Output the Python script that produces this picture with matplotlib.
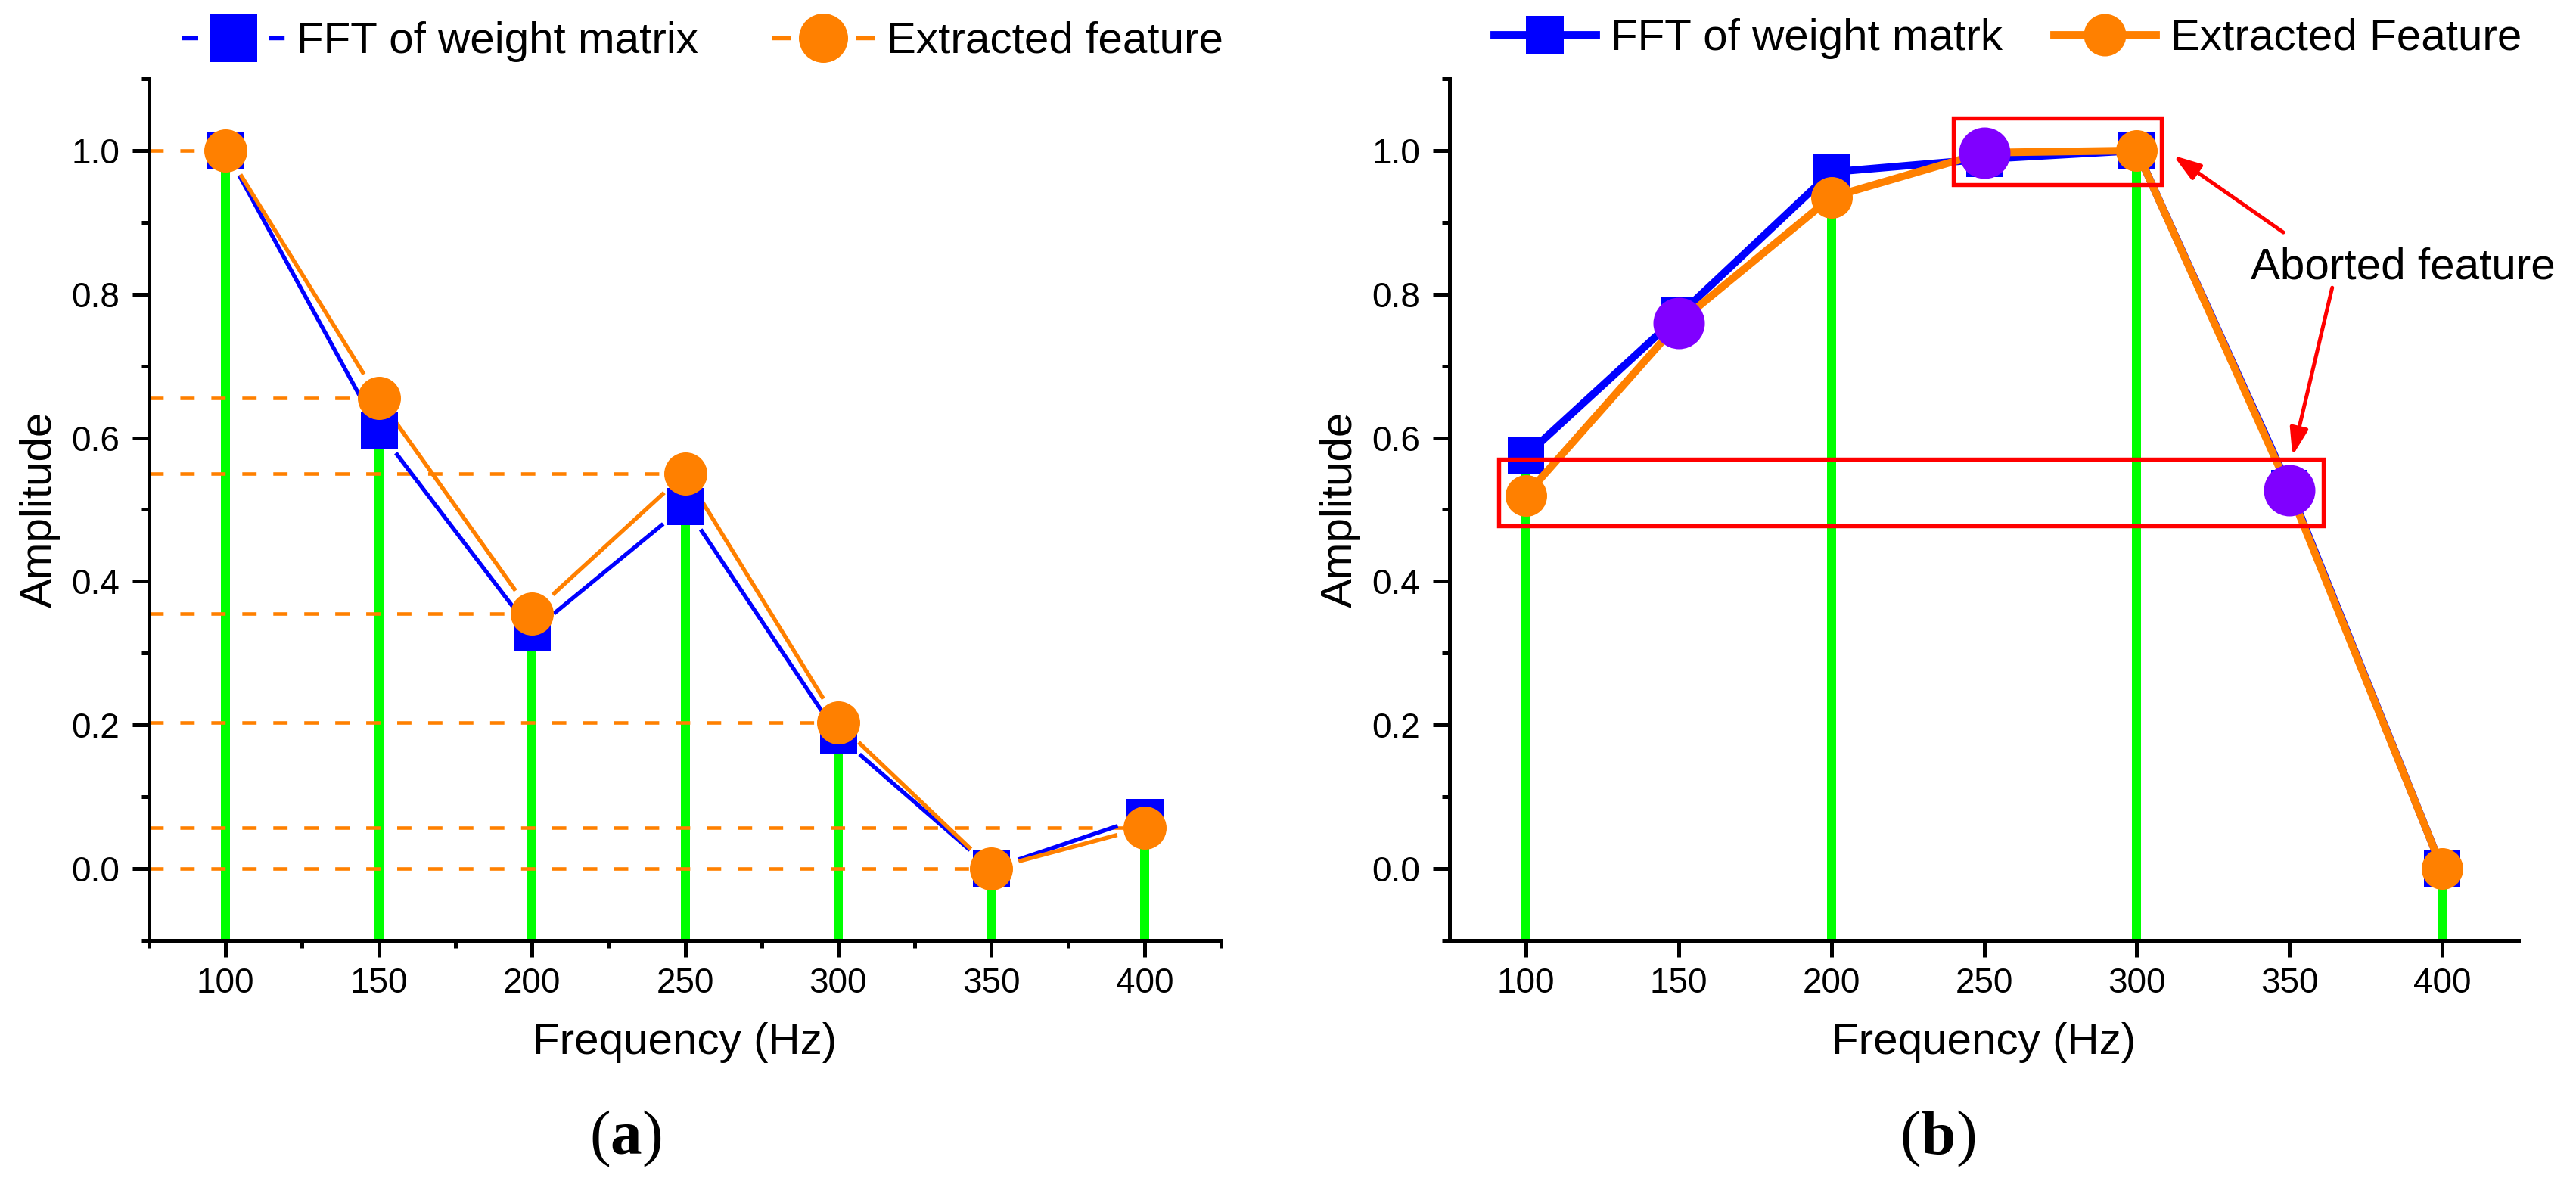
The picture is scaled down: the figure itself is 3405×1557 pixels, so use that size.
import numpy as np
import matplotlib
matplotlib.use("Agg")
import matplotlib.pyplot as plt
from matplotlib.lines import Line2D
from matplotlib.patches import Rectangle
from matplotlib.ticker import MultipleLocator

plt.rcParams['font.family'] = ['Liberation Sans', 'DejaVu Sans']
plt.rcParams['mathtext.fontset'] = 'custom'
plt.rcParams['mathtext.rm'] = 'Liberation Serif'
plt.rcParams['mathtext.bf'] = 'Liberation Serif:bold'

BLUE = '#0000FF'
ORANGE = '#FF8000'
GREEN = '#00FF00'
PURPLE = '#8000FF'
RED = '#FF0000'

# panel (a)
freq = [100, 150, 200, 250, 300, 350, 400]
fft_a = [1.0, 0.61, 0.33, 0.505, 0.185, 0.0, 0.072]
feat_a = [1.0, 0.655, 0.355, 0.55, 0.203, 0.0, 0.057]

# panel (b)
fft_b = [0.575, 0.77, 0.97, 0.988, 1.0, 0.53, 0.0]
feat_b = [0.52, 0.76, 0.935, 0.997, 1.0, 0.527, 0.0]
aborted_freq = [150, 250, 350]
aborted_amp = [0.76, 0.997, 0.527]
stem_freq_b = [100, 200, 300, 400]
stem_amp_b = [0.575, 0.97, 1.0, 0.0]

# highlight boxes in (b): (x0, x1, y0, y1)
box_top = (240, 308, 0.952, 1.045)
box_low = (91, 361, 0.477, 0.570)
arrow_up = ((348, 0.886), (312, 0.993))
arrow_down = ((364, 0.809), (351, 0.575))
note_pos = (337.4, 0.8215)

DPI = 300
PX = 72.0 / DPI  # points per pixel

fig = plt.figure(figsize=(3405 / DPI, 1557 / DPI), dpi=DPI)
ax1 = fig.add_axes([197 / 3405, 1 - 1243 / 1557, 1417 / 3405, 1139 / 1557])
ax2 = fig.add_axes([1916 / 3405, 1 - 1243 / 1557, 1413 / 3405, 1139 / 1557])


def style_axes(ax, minor_x):
    ax.set_xlim(75, 425)
    ax.set_ylim(-0.1, 1.1)
    for s in ['top', 'right']:
        ax.spines[s].set_visible(False)
    for s in ['left', 'bottom']:
        ax.spines[s].set_linewidth(1.2)
    ax.xaxis.set_major_locator(MultipleLocator(50))
    if minor_x:
        ax.xaxis.set_minor_locator(MultipleLocator(25))
    ax.yaxis.set_major_locator(MultipleLocator(0.2))
    ax.yaxis.set_minor_locator(MultipleLocator(0.1))
    ax.yaxis.set_major_formatter(matplotlib.ticker.FormatStrFormatter('%.1f'))
    ax.tick_params(which='major', direction='out', length=5.3, width=1.2, labelsize=11)
    ax.tick_params(which='minor', direction='out', length=2.4, width=1.2)
    ax.tick_params(axis='x', which='major', pad=3)
    ax.tick_params(axis='y', which='major', pad=4)
    ax.set_xlabel('Frequency (Hz)', fontsize=14, labelpad=7)
    ax.set_ylabel('Amplitude', fontsize=14, labelpad=3.5)


def gapped_line(ax, x, y, gap, **kw):
    pts = ax.transData.transform(np.column_stack([x, y]))
    inv = ax.transData.inverted()
    for p0, p1 in zip(pts[:-1], pts[1:]):
        d = p1 - p0
        u = d / np.hypot(*d)
        a = inv.transform(p0 + u * gap)
        b = inv.transform(p1 - u * gap)
        ax.plot([a[0], b[0]], [a[1], b[1]], **kw)


# ---- (a)
style_axes(ax1, True)
ax1.vlines(freq, -0.1, fft_a, color=GREEN, lw=12 * PX, zorder=1)
for f, v in zip(freq, feat_a):
    ax1.plot([75, f], [v, v], color=ORANGE, lw=4.6 * PX, dashes=(4.1, 4.8), zorder=2)
gapped_line(ax1, freq, fft_a, 40, color=BLUE, lw=1.3, zorder=3)
gapped_line(ax1, freq, feat_a, 40, color=ORANGE, lw=1.3, zorder=3)
ax1.plot(freq, fft_a, ls='none', marker='s', ms=49 * PX, color=BLUE, mew=0, zorder=4)
ax1.plot(freq, feat_a, ls='none', marker='o', ms=57 * PX, color=ORANGE, mew=0, zorder=5)

h1 = Line2D([], [], color=BLUE, lw=1.3, marker='s', ms=78 * PX, mfc=BLUE, mec='white', mew=15 * PX)
h2 = Line2D([], [], color=ORANGE, lw=1.3, marker='o', ms=76 * PX, mfc=ORANGE, mec='white', mew=11 * PX)
fig.legend([h1, h2], ['FFT of weight matrix', 'Extracted feature'], loc='center',
           bbox_to_anchor=(930 / 3405, 1 - 55 / 1557), ncol=2, frameon=False, fontsize=14,
           handlelength=2.23, handletextpad=0.33, columnspacing=1.7, borderpad=0, borderaxespad=0)

# ---- (b)
style_axes(ax2, False)
ax2.vlines(stem_freq_b, -0.1, stem_amp_b, color=GREEN, lw=12 * PX, zorder=1)
ax2.plot(freq, fft_b, color=BLUE, lw=2.4, marker='s', ms=48 * PX, mew=0, zorder=3)
ax2.plot(freq, feat_b, color=ORANGE, lw=2.4, marker='o', ms=55 * PX, mew=0, zorder=4)
ax2.plot(aborted_freq, aborted_amp, ls='none', marker='o', ms=68 * PX, color=PURPLE, mew=0, zorder=5)
for x0, x1, y0, y1 in [box_top, box_low]:
    ax2.add_patch(Rectangle((x0, y0), x1 - x0, y1 - y0, fill=False, ec=RED, lw=1.3, zorder=6))
for tail, head in [arrow_up, arrow_down]:
    ax2.annotate('', xy=head, xytext=tail,
                 arrowprops=dict(arrowstyle='-|>,head_length=0.6,head_width=0.2', color=RED,
                                 lw=1.2, mutation_scale=12, shrinkA=0, shrinkB=0), zorder=6)
ax2.text(note_pos[0], note_pos[1], 'Aborted feature', fontsize=14, ha='left', va='baseline')

h3 = Line2D([], [], color=BLUE, lw=2.6, marker='s', ms=50 * PX, mew=0)
h4 = Line2D([], [], color=ORANGE, lw=2.6, marker='o', ms=56 * PX, mew=0)
fig.legend([h3, h4], ['FFT of weight matrk', 'Extracted Feature'], loc='center',
           bbox_to_anchor=(2654 / 3405, 1 - 51 / 1557), ncol=2, frameon=False, fontsize=14,
           handlelength=2.3, handletextpad=0.34, columnspacing=1.17, borderpad=0, borderaxespad=0)

fig.text(827 / 3405, 1 - 1505 / 1557, r'$\mathrm{(}\mathbf{a}\mathrm{)}$', fontsize=20, ha='center', va='center')
fig.text(2561 / 3405, 1 - 1505 / 1557, r'$\mathrm{(}\mathbf{b}\mathrm{)}$', fontsize=20, ha='center', va='center')

fig.savefig('out.png', dpi=DPI)
